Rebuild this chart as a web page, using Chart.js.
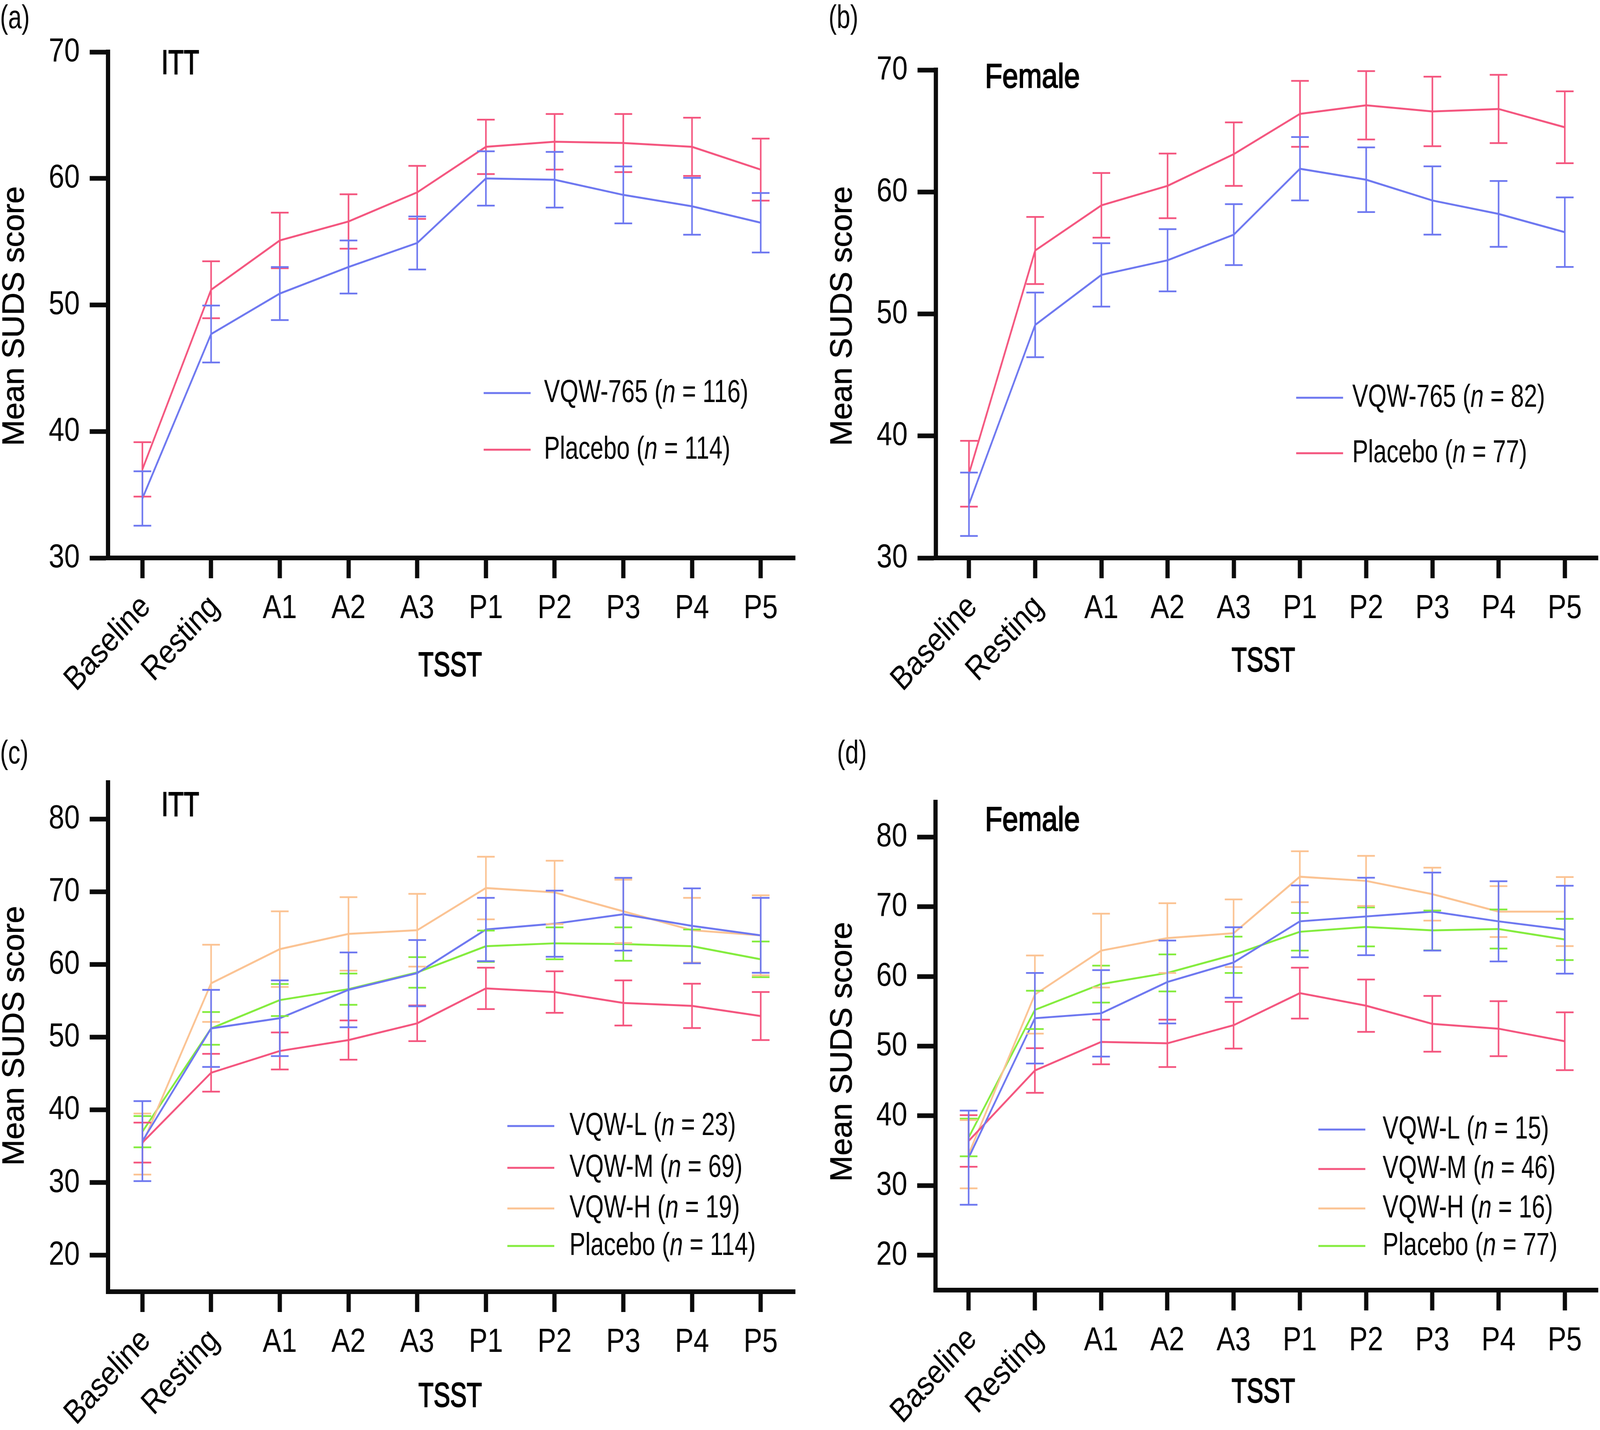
<!DOCTYPE html>
<html lang="en">
<head>
    <meta charset="UTF-8">
    <title>Mean SUDS score during the TSST</title>
    <script src="https://cdn.jsdelivr.net/npm/chart.js"></script>
    <style>
        html, body {
            margin: 0;
            overflow: hidden;
            background-color: #ffffff;
        }
        .page {
            position: relative;
            overflow: hidden;
            background-color: #ffffff;
        }
        .page canvas {
            position: absolute;
        }
    </style>
</head>
<body>
    <div class="page" id="page">
        <canvas id="chartA" width="2266" height="1830" data-left="0" data-top="0"></canvas>
        <canvas id="chartB" width="2267" height="1830" data-left="2266" data-top="0"></canvas>
        <canvas id="chartC" width="2266" height="1830" data-left="0" data-top="1830"></canvas>
        <canvas id="chartD" width="2267" height="1830" data-left="2266" data-top="1830"></canvas>
    </div>

    <script>
        // --- Data (mean SUDS score and error half-width) ---
        const categories = ['Baseline', 'Resting', 'A1', 'A2', 'A3', 'P1', 'P2', 'P3', 'P4', 'P5'];

        // (a) ITT, VQW-765 vs placebo
        const ittVqwMean = [34.7, 47.7, 50.9, 53.0, 54.9, 60.0, 59.9, 58.7, 57.8, 56.5];
        const ittVqwErr = [2.15, 2.25, 2.1, 2.1, 2.1, 2.15, 2.2, 2.25, 2.25, 2.35];
        const ittPlaceboMean = [37.0, 51.2, 55.1, 56.6, 58.9, 62.5, 62.9, 62.8, 62.5, 60.7];
        const ittPlaceboErr = [2.15, 2.25, 2.2, 2.15, 2.1, 2.15, 2.2, 2.3, 2.3, 2.45];

        // (b) Female, VQW-765 vs placebo
        const femVqwMean = [34.4, 49.1, 53.2, 54.4, 56.5, 61.9, 61.0, 59.3, 58.2, 56.7];
        const femVqwErr = [2.6, 2.65, 2.6, 2.55, 2.5, 2.6, 2.65, 2.8, 2.7, 2.85];
        const femPlaceboMean = [36.9, 55.2, 58.9, 60.5, 63.1, 66.4, 67.1, 66.6, 66.8, 65.3];
        const femPlaceboErr = [2.7, 2.75, 2.65, 2.65, 2.6, 2.7, 2.8, 2.85, 2.8, 2.95];

        // (c) ITT by dose
        const ittLowMean = [35.7, 51.2, 52.6, 56.5, 58.8, 64.8, 65.6, 66.9, 65.3, 64.0];
        const ittLowErr = [5.5, 5.3, 5.2, 5.15, 4.55, 4.35, 4.55, 5.0, 5.15, 5.15];
        const ittMidMean = [35.5, 45.1, 48.1, 49.6, 51.9, 56.7, 56.2, 54.7, 54.3, 52.9];
        const ittMidErr = [2.75, 2.6, 2.55, 2.7, 2.45, 2.85, 2.85, 3.1, 3.05, 3.3];
        const ittHighMean = [35.3, 57.4, 62.1, 64.2, 64.7, 70.5, 69.9, 67.3, 64.7, 64.0];
        const ittHighErr = [4.2, 5.3, 5.2, 5.05, 5.0, 4.3, 4.35, 4.35, 4.45, 5.5];

        // (d) Female by dose
        const femLowMean = [34.0, 54.0, 54.7, 59.2, 62.0, 67.9, 68.6, 69.3, 67.9, 66.7];
        const femLowErr = [6.75, 6.5, 6.2, 5.95, 5.05, 5.15, 5.55, 5.6, 5.75, 6.3];
        const femMidMean = [36.4, 46.5, 50.6, 50.4, 53.0, 57.6, 55.8, 53.2, 52.5, 50.7];
        const femMidErr = [3.7, 3.2, 3.2, 3.4, 3.35, 3.65, 3.75, 4.0, 3.95, 4.15];
        const femHighMean = [34.5, 57.4, 63.7, 65.5, 66.2, 74.3, 73.7, 71.8, 69.3, 69.3];
        const femHighErr = [4.9, 5.6, 5.3, 5.0, 4.85, 3.65, 3.6, 3.8, 3.65, 4.95];

        // y tick labels
        const ticksTwoGroup = [30, 40, 50, 60, 70];
        const ticksDose = [20, 30, 40, 50, 60, 70, 80];

        // legend names and group sizes
        const namesTwoGroup = ['VQW-765', 'Placebo'];
        const nIttTwoGroup = [116, 114];
        const nFemTwoGroup = [82, 77];
        const namesDose = ['VQW-L', 'VQW-M', 'VQW-H', 'Placebo'];
        const nIttDose = [23, 69, 19, 114];
        const nFemDose = [15, 46, 16, 77];

        const BLUE = '#6e78f0';
        const PINK = '#f4567f';
        const ORANGE = '#fbc393';
        const GREEN = '#84ec3e';
        const FONT = '"Liberation Sans", Arial, sans-serif';
        const NARROW = 0.82;
        const TICK_NARROW = 0.92;

        // the figure is laid out in 4533 x 3660 units; stretch that over the window
        const fitX = window.innerWidth / 4533;
        const fitY = window.innerHeight / 3660;
        const page = document.getElementById('page');
        page.style.width = window.innerWidth + 'px';
        page.style.height = window.innerHeight + 'px';
        document.querySelectorAll('#page canvas').forEach(c => {
            c.style.left = (Number(c.dataset.left) * fitX) + 'px';
            c.style.top = (Number(c.dataset.top) * fitY) + 'px';
            c.style.width = (c.width * fitX) + 'px';
            c.style.height = (c.height * fitY) + 'px';
        });
        const pixelRatio = Math.max(fitX, fitY) * (window.devicePixelRatio || 1);

        // draws a run of text parts (some italic), squeezed horizontally
        function drawText(ctx, parts, x, y, o) {
            ctx.save();
            ctx.translate(x, y);
            if (o.rotate) ctx.rotate(o.rotate);
            const fontOf = p => (p.italic ? 'italic ' : '') + o.size + 'px ' + FONT;
            const widths = parts.map(p => { ctx.font = fontOf(p); return ctx.measureText(p.text).width; });
            const total = widths.reduce((a, b) => a + b, 0);
            const sx = o.width ? o.width / total : (o.squeeze || 1);
            ctx.scale(sx, 1);
            let pos = o.align === 'center' ? -total / 2 : (o.align === 'right' ? -total : 0);
            ctx.textAlign = 'left';
            ctx.textBaseline = 'middle';
            ctx.fillStyle = '#000';
            ctx.strokeStyle = '#000';
            ctx.lineWidth = o.stroke || 0;
            parts.forEach((p, i) => {
                ctx.font = fontOf(p);
                ctx.fillText(p.text, pos, 0);
                if (o.stroke) ctx.strokeText(p.text, pos, 0);
                pos += widths[i];
            });
            ctx.restore();
        }

        const errorBars = {
            id: 'errorBars',
            afterDatasetsDraw(chart) {
                const ctx = chart.ctx;
                const xs = chart.scales.x, ys = chart.scales.y;
                for (let d = chart.data.datasets.length - 1; d >= 0; d--) {
                    const ds = chart.data.datasets[d];
                    ctx.save();
                    ctx.strokeStyle = ds.borderColor;
                    ctx.lineWidth = 4.5;
                    ds.data.forEach((v, i) => {
                        const px = xs.getPixelForValue(i);
                        const hi = ys.getPixelForValue(v + ds.err[i]);
                        const lo = ys.getPixelForValue(v - ds.err[i]);
                        ctx.beginPath();
                        ctx.moveTo(px, hi); ctx.lineTo(px, lo);
                        ctx.moveTo(px - 25, hi); ctx.lineTo(px + 25, hi);
                        ctx.moveTo(px - 25, lo); ctx.lineTo(px + 25, lo);
                        ctx.stroke();
                    });
                    ctx.restore();
                }
            }
        };

        const panelText = {
            id: 'panelText',
            afterDraw(chart, args, opts) {
                const ctx = chart.ctx;
                const xs = chart.scales.x, ys = chart.scales.y;
                const area = chart.chartArea;

                // y tick labels
                ys.ticks.forEach(t => {
                    drawText(ctx, [{ text: String(t.value) }], area.left - 80, ys.getPixelForValue(t.value),
                        { size: 86, squeeze: TICK_NARROW, align: 'right' });
                });

                // x tick labels, first two rotated
                categories.forEach((c, i) => {
                    const px = xs.getPixelForTick(i);
                    if (i < 2) {
                        drawText(ctx, [{ text: c }], px + 10, xs.top + 112,
                            { size: 86, squeeze: TICK_NARROW, align: 'right', rotate: -Math.PI / 4 });
                    } else {
                        drawText(ctx, [{ text: c }], px, xs.top + 130,
                            { size: 86, squeeze: TICK_NARROW, align: 'center' });
                    }
                });

                // axis titles
                drawText(ctx, [{ text: 'Mean SUDS score' }], opts.yTitle[0], opts.yTitle[1],
                    { size: 88, width: 665, align: 'center', rotate: -Math.PI / 2, stroke: 1 });
                drawText(ctx, [{ text: 'TSST' }], opts.xTitle[0], opts.xTitle[1],
                    { size: 88, width: 180, align: 'center', stroke: 2.5 });

                // panel letter and subgroup
                drawText(ctx, [{ text: opts.letter }], opts.letterPos[0], opts.letterPos[1],
                    { size: 84, squeeze: NARROW });
                drawText(ctx, [{ text: opts.group }], opts.groupPos[0], opts.groupPos[1],
                    { size: 88, width: opts.group === 'ITT' ? 107 : 269, stroke: 2.5 });

                // legend
                chart.data.datasets.forEach((ds, i) => {
                    const y = opts.legendRows[i];
                    ctx.save();
                    ctx.strokeStyle = ds.borderColor;
                    ctx.lineWidth = 5;
                    ctx.beginPath();
                    ctx.moveTo(opts.legendLine[0], y);
                    ctx.lineTo(opts.legendLine[1], y);
                    ctx.stroke();
                    ctx.restore();
                    drawText(ctx, [
                        { text: ds.label + ' (' },
                        { text: 'n', italic: true },
                        { text: ' = ' + ds.n + ')' }
                    ], opts.legendText, y, { size: 82, squeeze: NARROW });
                });
            }
        };

        function createPanel(canvasId, series, yRange, yTicks, box, text) {
            const ctx = document.getElementById(canvasId).getContext('2d');
            new Chart(ctx, {
                type: 'line',
                data: {
                    labels: categories,
                    datasets: series.map(s => ({
                        label: s.name,
                        n: s.n,
                        data: s.mean,
                        err: s.err,
                        borderColor: s.color,
                        borderWidth: 5,
                        pointRadius: 0,
                        tension: 0,
                        fill: false
                    }))
                },
                options: {
                    responsive: false,
                    devicePixelRatio: pixelRatio,
                    animation: false,
                    events: [],
                    layout: {
                        padding: { left: 0, top: box.top, right: box.right, bottom: 0 }
                    },
                    scales: {
                        x: {
                            type: 'category',
                            offset: true,
                            grid: {
                                offset: false,
                                drawOnChartArea: false,
                                drawTicks: true,
                                tickLength: 52,
                                tickWidth: 12,
                                tickColor: '#0b0b0b'
                            },
                            border: { display: true, color: '#0b0b0b', width: 12 },
                            ticks: { display: false },
                            afterFit: s => { s.height = box.xHeight; }
                        },
                        y: {
                            min: yRange[0],
                            max: yRange[1],
                            grid: {
                                drawOnChartArea: false,
                                drawTicks: true,
                                tickLength: 52,
                                tickWidth: 12,
                                tickColor: '#0b0b0b'
                            },
                            border: { display: true, color: '#0b0b0b', width: 12 },
                            ticks: { display: false },
                            afterBuildTicks: s => { s.ticks = yTicks.map(v => ({ value: v })); },
                            afterFit: s => { s.width = box.yWidth; }
                        }
                    },
                    plugins: {
                        legend: { display: false },
                        tooltip: { enabled: false },
                        panelText: text
                    }
                },
                plugins: [errorBars, panelText]
            });
        }

        createPanel('chartA', [
            { name: namesTwoGroup[0], n: nIttTwoGroup[0], mean: ittVqwMean, err: ittVqwErr, color: BLUE },
            { name: namesTwoGroup[1], n: nIttTwoGroup[1], mean: ittPlaceboMean, err: ittPlaceboErr, color: PINK }
        ], [30, 70], ticksTwoGroup,
            { top: 133, right: 14, yWidth: 306, xHeight: 402 },
            { letter: '(a)', letterPos: [0, 49], group: 'ITT', groupPos: [457, 165],
              yTitle: [43, 809], xTitle: [1275, 1706],
              legendLine: [1370, 1503], legendText: 1541, legendRows: [1006, 1151] });

        createPanel('chartB', [
            { name: namesTwoGroup[0], n: nFemTwoGroup[0], mean: femVqwMean, err: femVqwErr, color: BLUE },
            { name: namesTwoGroup[1], n: nFemTwoGroup[1], mean: femPlaceboMean, err: femPlaceboErr, color: PINK }
        ], [30, 70], ticksTwoGroup,
            { top: 179, right: 6, yWidth: 385, xHeight: 402 },
            { letter: '(b)', letterPos: [81, 49], group: 'Female', groupPos: [524, 200],
              yTitle: [122, 809], xTitle: [1313, 1694],
              legendLine: [1406, 1539], legendText: 1565, legendRows: [1018, 1160] });

        createPanel('chartC', [
            { name: namesDose[0], n: nIttDose[0], mean: ittLowMean, err: ittLowErr, color: BLUE },
            { name: namesDose[1], n: nIttDose[1], mean: ittMidMean, err: ittMidErr, color: PINK },
            { name: namesDose[2], n: nIttDose[2], mean: ittHighMean, err: ittHighErr, color: ORANGE },
            { name: namesDose[3], n: nIttDose[3], mean: ittPlaceboMean, err: ittPlaceboErr, color: GREEN }
        ], [15, 85], ticksDose,
            { top: 173, right: 14, yWidth: 306, xHeight: 354 },
            { letter: '(c)', letterPos: [0, 101], group: 'ITT', groupPos: [457, 234],
              yTitle: [43, 821], xTitle: [1275, 1746],
              legendLine: [1437, 1570], legendText: 1613, legendRows: [1052, 1159, 1263, 1359] });

        createPanel('chartD', [
            { name: namesDose[0], n: nFemDose[0], mean: femLowMean, err: femLowErr, color: BLUE },
            { name: namesDose[1], n: nFemDose[1], mean: femMidMean, err: femMidErr, color: PINK },
            { name: namesDose[2], n: nFemDose[2], mean: femHighMean, err: femHighErr, color: ORANGE },
            { name: namesDose[3], n: nFemDose[3], mean: femPlaceboMean, err: femPlaceboErr, color: GREEN }
        ], [15, 85], ticksDose,
            { top: 223, right: 6, yWidth: 384, xHeight: 358 },
            { letter: '(d)', letterPos: [105, 101], group: 'Female', groupPos: [524, 272],
              yTitle: [122, 862], xTitle: [1313, 1735],
              legendLine: [1469, 1602], legendText: 1651, legendRows: [1061, 1162, 1263, 1359] });
    </script>
</body>
</html>
